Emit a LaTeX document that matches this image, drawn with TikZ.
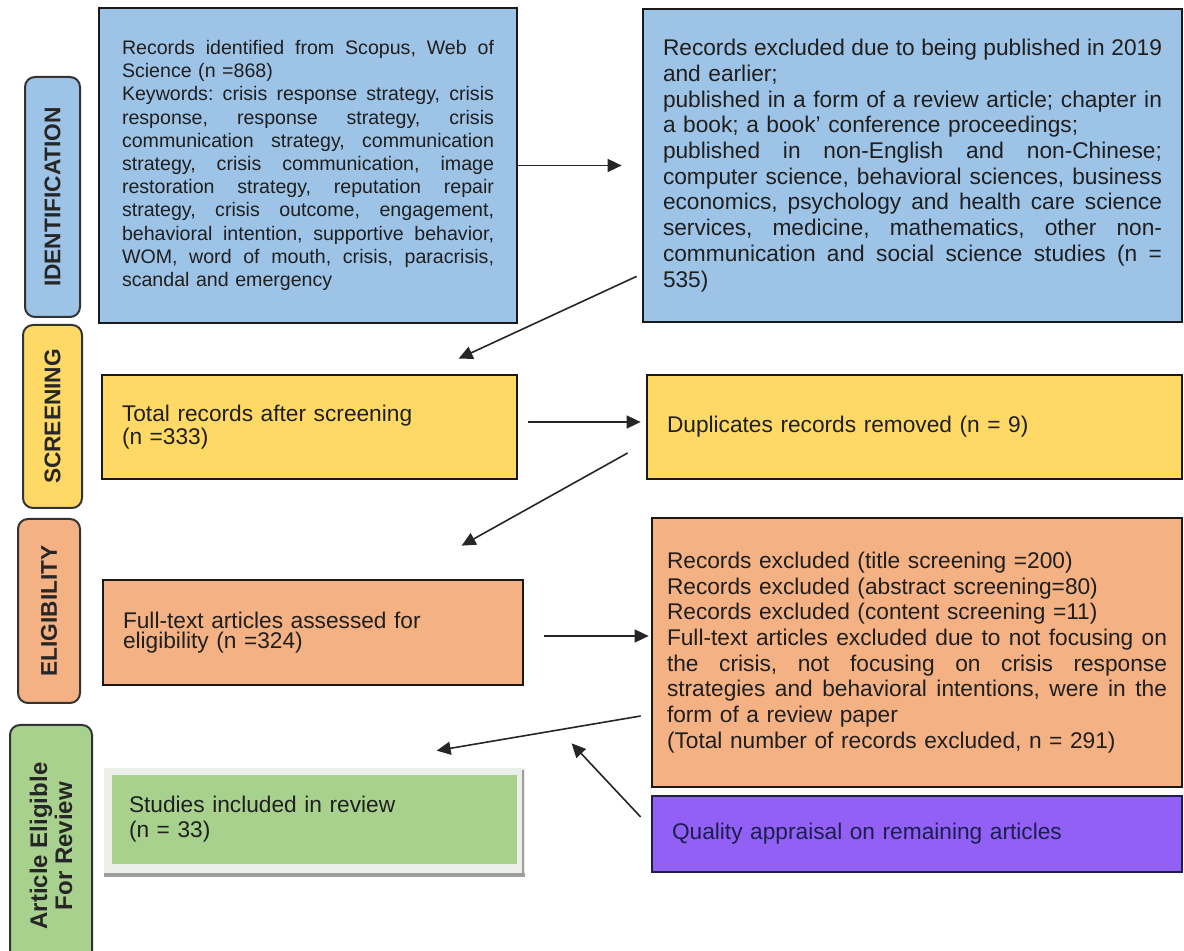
\documentclass[tikz,border=0pt]{standalone}
\usepackage{fontspec}
\setmainfont{Liberation Sans}
\usetikzlibrary{arrows.meta,positioning,calc}

\definecolor{idblue}{RGB}{157,195,230}
\definecolor{scyellow}{RGB}{255,217,102}
\definecolor{elorange}{RGB}{244,177,131}
\definecolor{revgreen}{RGB}{169,209,142}
\definecolor{qapurple}{RGB}{146,96,244}
\definecolor{qanavy}{RGB}{28,30,80}
\definecolor{framegray}{RGB}{236,238,233}

% one justified line of a box
\newcommand{\jline}[1]{{\frenchspacing\spaceskip=0pt\xspaceskip=0pt\makebox[\hsize][s]{#1}}}

\begin{document}
\begin{tikzpicture}[x=0.5pt,y=-0.5pt,
    box/.style={draw=black!90, line width=1.35pt, inner ysep=0pt, inner xsep=10pt,
      align=left, text=black!88, font=\fontsize{11.35}{12.85}\selectfont},
    stage/.style={draw=black!80, line width=1pt, rounded corners=5pt, rotate=90,
      align=center, inner sep=0pt, text=black!85, font=\bfseries\fontsize{11.35}{12}\selectfont},
    arr/.style={-{Triangle[length=7pt,width=6.5pt]}, line width=0.8pt, draw=black!85}]
\useasboundingbox (0,0) rectangle (1184,951);

% stages on the left
\node[stage, fill=idblue, minimum width=120pt, minimum height=27.5pt] (s1) at (52.5,197) {IDENTIFICATION};
\node[stage, fill=scyellow, minimum width=91.5pt, minimum height=29.5pt] (s2) at (52.5,416.5) {SCREENING};
\node[stage, fill=elorange, minimum width=92pt, minimum height=31pt] (s3) at (49,611) {ELIGIBILITY};
\node[stage, fill=revgreen, minimum width=121pt, minimum height=41pt,
  font=\bfseries\fontsize{12}{12.5}\selectfont] (s4) at (51,846) {Article Eligible\\For Review};

% identification
\node[box, fill=idblue, text width=186pt, inner xsep=11.5pt, minimum height=157.5pt,
  font=\fontsize{9.8}{11.6}\selectfont] (b1) at (308,165.5) {%
\jline{Records identified from Scopus, Web of}\\
Science (n =868)\\
\jline{Keywords: crisis response strategy, crisis}\\
\jline{response, response strategy, crisis}\\
\jline{communication strategy, communication}\\
\jline{strategy, crisis communication, image}\\
\jline{restoration strategy, reputation repair}\\
\jline{strategy, crisis outcome, engagement,}\\
\jline{behavioral intention, supportive behavior,}\\
\jline{WOM, word of mouth, crisis, paracrisis,}\\
scandal and emergency};
\node[box, fill=idblue, text width=249.5pt, minimum height=156.5pt] (b2) at (912.5,165.5) {%
\jline{Records excluded due to being published in 2019}\\
and earlier;\\
\jline{published in a form of a review article; chapter in}\\
a book; a book' conference proceedings;\\
\jline{published in non-English and non-Chinese;}\\
\jline{computer science, behavioral sciences, business}\\
\jline{economics, psychology and health care science}\\
\jline{services, medicine, mathematics, other non-}\\
\jline{communication and social science studies (n =}\\
535)};

% screening
\node[box, fill=scyellow, text width=187.5pt, minimum height=52pt,
  font=\fontsize{11.35}{10.5}\selectfont] (b3) at (309.5,427) {Total records after screening\\(n =333)};
\node[box, fill=scyellow, text width=247.5pt, minimum height=52pt] (b4) at (914.5,427) {Duplicates records removed (n = 9)};

% eligibility
\node[box, fill=elorange, text width=190pt, minimum height=52.5pt,
  font=\fontsize{11.35}{10.2}\selectfont] (b5) at (313,632.5) {Full-text articles assessed for\\eligibility (n =324)};
\node[box, fill=elorange, text width=250pt, inner xsep=7.5pt, minimum height=134.5pt] (b6) at (917,652.5) {%
Records excluded (title screening =200)\\
Records excluded (abstract screening=80)\\
Records excluded (content screening =11)\\
\jline{Full-text articles excluded due to not focusing on}\\
\jline{the crisis, not focusing on crisis response}\\
\jline{strategies and behavioral intentions, were in the}\\
form of a review paper\\
(Total number of records excluded, n = 291)};
\node[box, fill=qapurple, draw=qanavy, text=qanavy, text width=245pt, minimum height=38pt] (b7) at (917,834) {Quality appraisal on remaining articles};

% included
\fill[framegray] (104,768) rectangle (525,877);
\draw[gray!75, line width=0.6pt] (523,770) -- (523,877);
\draw[gray!75, line width=1.6pt] (104,875) -- (525,875);
\node[box, draw=none, fill=revgreen, text width=185.5pt, inner xsep=8.5pt, minimum height=44.5pt,
  font=\fontsize{11.35}{12.5}\selectfont] (b8) at (314.5,819.5) {Studies included in review\\(n = 33)};

% arrows
\draw[arr, shorten >=10pt] (b1.east) -- (b2.west);
\draw[arr] ($(b2.south west)+(-5,-47)$) -- ($(b3.north west)+(358,-15)$);
\draw[arr] ($(b3.east)+(10,-5)$) -- ($(b4.west)+(-5,-5)$);
\draw[arr] ($(b4.west)+(-18,26)$) -- ($(b5.north west)+(360,-33)$);
\draw[arr] ($(b5.east)+(20,3.5)$) -- ($(b6.west)+(-2,-16.5)$);
\draw[arr] ($(b6.west)+(-10,63.5)$) -- ($(b8.north west)+(326,-23)$);
\draw[arr] ($(b7.west)+(-10,-17)$) -- ($(b6.south west)+(-79,-45)$);
\end{tikzpicture}
\end{document}
